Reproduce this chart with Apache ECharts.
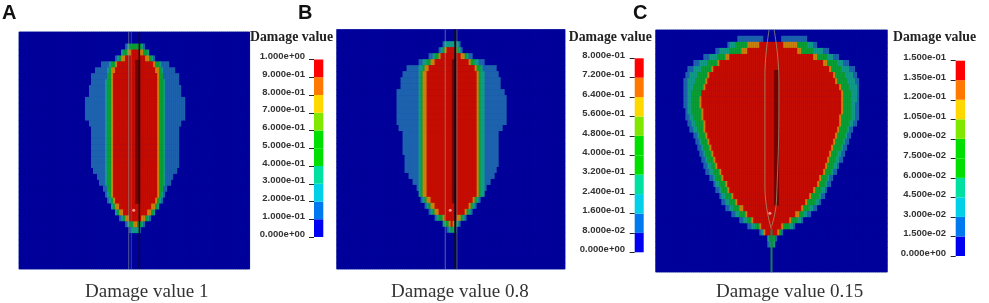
<!DOCTYPE html>
<html><head><meta charset="utf-8">
<style>html,body{margin:0;background:#fff}#c{width:989px;height:303px}</style>
<script src="https://cdn.jsdelivr.net/npm/echarts@6/dist/echarts.min.js"></script>
</head><body><div id="c"></div>
<script>
// Contour band half-widths per mesh row (half-cell units), outermost band first.
const A_start = 2;
const A_pale = [10,14,20,33,40,43,43,45,46,49,49,49,49,46,44,44,44,43,43,43,43,42,38,35,32,30,27,24,20,15,9,5];
const A_teal = [8,13,17,26,27,28,29,29,29,29,29,29,29,29,29,29,29,29,29,29,29,29,29,29,28,28,26,23,19,14,7,3];
const A_green = [6,11,15,23,25,27,27,27,27,27,27,27,27,27,27,27,27,27,27,27,27,27,27,27,27,26,24,21,17,12,5,0];
const A_orange = [0,7,13,19,23,24,24,24,24,24,24,24,24,24,24,24,24,24,24,24,24,24,24,24,24,24,22,19,15,9,2,0];
const A_red = [0,4,10,17,20,22,22,22,22,22,22,22,22,22,22,22,22,22,22,22,22,22,22,22,22,21,19,16,12,5,0,0];

const B_start = 2;
const B_pale = [9,12,22,33,45,48,50,50,54,55,55,55,55,55,52,48,48,48,48,47,47,46,43,39,35,32,30,26,22,16,9,5];
const B_teal = [7,10,18,28,32,33,33,33,33,33,33,33,33,33,33,33,33,33,33,33,33,33,33,33,33,33,28,24,20,14,8,3];
const B_green = [0,8,16,24,29,30,30,30,30,30,30,30,30,30,30,30,30,30,30,30,30,30,30,30,30,30,26,22,18,12,6,1];
const B_orange = [0,6,13,20,26,28,28,28,28,28,28,28,28,28,28,28,28,28,28,28,28,28,28,28,28,28,24,20,16,9,3,0];
const B_red = [0,4,10,17,23,25,25,25,25,25,25,25,25,25,25,25,25,25,25,25,25,25,25,25,25,25,21,17,13,6,1,0];

const C_start = 1;
const C_pale = [35,45,57,68,78,84,86,88,88,88,88,88,87,87,85,82,79,77,75,73,71,68,66,62,59,56,53,50,46,40,32,24,12,5,4];
const C_teal = [0,42,52,62,72,78,82,84,85,85,85,84,84,83,81,78,75,73,71,69,67,65,62,58,56,53,50,47,42,36,29,21,10,4,3];
const C_green = [0,36,42,55,65,70,74,76,78,80,80,80,80,79,77,75,73,71,69,66,64,61,59,56,53,50,47,43,38,32,25,17,9,3,1];
const C_orange = [0,25,30,46,55,60,64,66,69,71,72,72,71,70,69,68,66,64,62,60,58,56,53,50,47,44,40,36,32,27,20,12,8,0,0];
const C_red = [0,12,25,42,52,58,62,64,67,70,70,70,69,68,67,66,64,62,60,58,56,54,51,48,45,42,38,34,29,24,18,10,6,0,0];
const C_notch = [9];

const bandLevels = [0.15,0.35,0.55,0.85,1];
const bandColors = ['#00009a','#1d62ad','#119a88','#0a9e35','#c9800c','#c40c02'];

const labels_A = ['0.000e+00','1.000e-01','2.000e-01','3.000e-01','4.000e-01','5.000e-01','6.000e-01','7.000e-01','8.000e-01','9.000e-01','1.000e+00'];
const labels_B = ['0.000e+00','8.000e-02','1.600e-01','2.400e-01','3.200e-01','4.000e-01','4.800e-01','5.600e-01','6.400e-01','7.200e-01','8.000e-01'];
const labels_C = ['0.000e+00','1.500e-02','3.000e-02','4.500e-02','6.000e-02','7.500e-02','9.000e-02','1.050e-01','1.200e-01','1.350e-01','1.500e-01'];
const legendMax = [1,0.8,0.15];
const legendColors = ['#0000f0','#0078f0','#00d0e8','#00e0a0','#00e000','#00e000','#80e800','#ffd800','#ff7800','#ff0000'];

const captions = ['Damage value 1','Damage value 0.8','Damage value 0.15'];
const letters = ['A','B','C'];

// Wellbore traces in mesh units [column, row]
const A_wells = [
  {pts:[[59.2,4.7],[59.2,29]],color:'#7a0000',w:5},
  {pts:[[54.7,0],[54.7,40]],color:'rgba(140,165,150,0.55)',w:1},
  {pts:[[56,0],[56,40]],color:'rgba(70,110,190,0.6)',w:1},
  {pts:[[60,0],[60,40]],color:'#0c0c1e',w:1.5}
];
const B_wells = [
  {pts:[[58.5,5],[58.5,29]],color:'#7a0000',w:4},
  {pts:[[54.2,0],[54.2,40]],color:'rgba(140,165,150,0.6)',w:1},
  {pts:[[60,0],[60,40]],color:'rgba(140,165,150,0.6)',w:1},
  {pts:[[59.2,0],[59.2,40]],color:'#0c0c1e',w:2}
];
const C_wells = [
  {pts:[[60.5,6.6],[60.5,29]],color:'#7a0000',w:5},
  {pts:[[56.8,0],[54.7,7.7],[54.7,25.9],[58,33]],color:'rgba(160,170,130,0.7)',w:1,smooth:true},
  {pts:[[59.3,0],[61.7,8.3],[60.5,28.1],[58,32.5]],color:'rgba(160,170,130,0.7)',w:1,smooth:true},
  {pts:[[58,33],[58,40]],color:'#1f7a55',w:2}
];
const wellDots = [[[57.2,30.1]],[[56.7,30.2]],[[57.2,30.3]]];

const panels = [
 {start:A_start,bands:[A_pale,A_teal,A_green,A_orange,A_red],notch:[],cx:58,cols:115,rows:40,wells:A_wells,
  box:[19,32,230.7,237],bar:[314,59.5,9.3,177.5],labels:labels_A,labelRight:9,title:[250,30],cap:85,letter:2},
 {start:B_start,bands:[B_pale,B_teal,B_green,B_orange,B_red],notch:[],cx:57.3,cols:114,rows:40,wells:B_wells,
  box:[336.7,29.5,228.3,239.5],bar:[634.7,58.3,9,194],labels:labels_B,labelRight:9.7,title:[568.7,30],cap:391,letter:298},
 {start:C_start,bands:[C_pale,C_teal,C_green,C_orange,C_red],notch:C_notch,cx:58.2,cols:116,rows:40,wells:C_wells,
  box:[655.7,30,231.6,242],bar:[955.7,60.7,9.3,195.3],labels:labels_C,labelRight:9.7,title:[893,30],cap:716,letter:633}
];

function cells(p){
  const out=[];
  for(let r=0;r<p.rows;r++){
    const k=r-p.start;
    for(let c=0;c<p.cols;c++){
      const d=Math.abs(c+0.5-p.cx)*2;
      let v=0;
      if(k>=0&&k<p.bands[0].length&&!(k<p.notch.length&&d<p.notch[k])){
        p.bands.forEach((b,i)=>{ if(d<=b[k]) v=bandLevels[i]; });
      }
      out.push([c,r,v]);
    }
  }
  return out;
}

const grid=[],xAxis=[],yAxis=[],series=[],title=[];
const idx=a=>Array.from({length:a},(_,i)=>i);
panels.forEach((p,i)=>{
  grid[i]={left:p.box[0],top:p.box[1],width:p.box[2],height:p.box[3],show:true,borderColor:'#7f9cc9',borderWidth:1,backgroundColor:'#00009a'};
  grid[i+3]={left:p.bar[0],top:p.bar[1],width:p.bar[2],height:p.bar[3]};
  xAxis[i]={type:'category',gridIndex:i,data:idx(p.cols),show:false};
  yAxis[i]={type:'category',gridIndex:i,data:idx(p.rows),inverse:true,show:false};
  xAxis[i+3]={type:'value',gridIndex:i,min:0,max:p.cols,show:false};
  yAxis[i+3]={type:'value',gridIndex:i,min:0,max:p.rows,inverse:true,show:false};
  xAxis[i+6]={type:'category',gridIndex:i+3,data:['bar'],show:false};
  const step=legendMax[i]/10;
  yAxis[i+6]={type:'value',gridIndex:i+3,min:0,max:legendMax[i],interval:step,splitLine:{show:false},
    axisLine:{show:false},axisTick:{show:true,length:5,lineStyle:{color:'#222',width:1}},
    axisLabel:{margin:p.labelRight,color:'#333',fontFamily:'Liberation Sans',fontWeight:'bold',fontSize:9.5,
      verticalAlign:'bottom',lineHeight:6,showMinLabel:true,showMaxLabel:true,
      formatter:v=>p.labels[Math.round(v/step)]}};
  series.push({type:'heatmap',xAxisIndex:i,yAxisIndex:i,data:cells(p),silent:true,progressive:0,animation:false,emphasis:{disabled:true},z:2});
});
panels.forEach((p,i)=>{
  p.wells.forEach(w=>series.push({type:'line',xAxisIndex:i+3,yAxisIndex:i+3,data:w.pts,showSymbol:false,smooth:!!w.smooth,
    silent:true,animation:false,lineStyle:{color:w.color,width:w.w},z:4}));
  series.push({type:'scatter',xAxisIndex:i+3,yAxisIndex:i+3,data:wellDots[i],symbolSize:3,silent:true,animation:false,itemStyle:{color:'#ffb4b4'},z:5});
  legendColors.forEach(col=>series.push({type:'bar',xAxisIndex:i+6,yAxisIndex:i+6,stack:'L'+i,barWidth:'100%',silent:true,animation:false,
    data:[legendMax[i]/10],itemStyle:{color:col}}));
  title.push({text:'Damage value',left:p.title[0],top:p.title[1],padding:0,textStyle:{fontFamily:'Liberation Serif',fontWeight:'bold',fontSize:13.8,color:'#222'}});
  title.push({text:captions[i],left:p.cap,top:283,padding:0,textStyle:{fontFamily:'Liberation Serif',fontWeight:'normal',fontSize:19,color:'#333'}});
  title.push({text:letters[i],left:p.letter,top:3,padding:0,textStyle:{fontFamily:'Liberation Sans',fontWeight:'bold',fontSize:20,color:'#111'}});
});

const visualMap={show:false,type:'piecewise',seriesIndex:[0,1,2],dimension:2,
  pieces:[{lte:0,color:bandColors[0]}].concat(bandLevels.map((l,i)=>({gt:(i?bandLevels[i-1]:0),lte:l,color:bandColors[i+1]})))};

echarts.init(document.getElementById('c'),null,{renderer:'canvas'}).setOption({animation:false,backgroundColor:'#fff',title,grid,xAxis,yAxis,series,visualMap});
</script></body></html>
